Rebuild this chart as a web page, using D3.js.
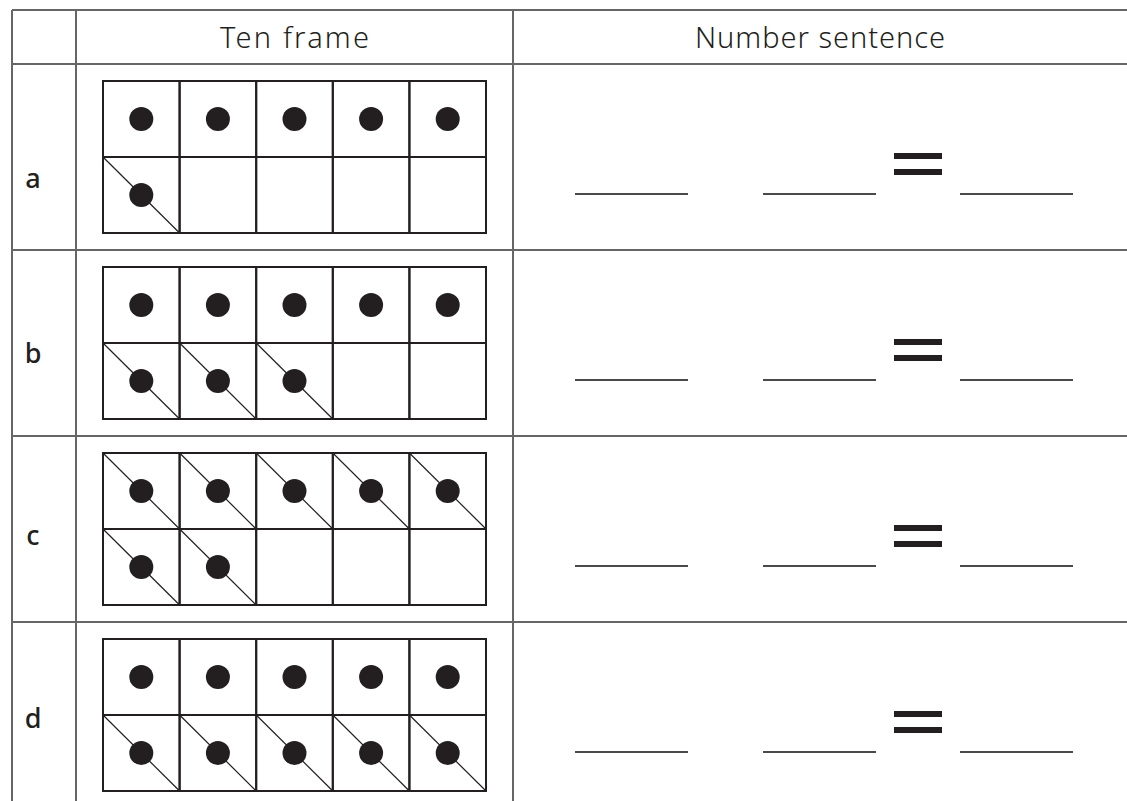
<!DOCTYPE html>
<html>
<head>
<meta charset="utf-8">
<script src="https://cdn.jsdelivr.net/npm/d3@7"></script>
<style>
  body { margin: 0; background: #fff; }
  svg { display: block; }
  text { font-family: "Noto Sans", "DejaVu Sans", sans-serif; fill: #231f20; }
</style>
</head>
<body>
<svg width="1127" height="801"></svg>
<script>
// worksheet rows: how many counters, how many of them are crossed out
const rowLabels = ["a", "b", "c", "d"];
const counters = [6, 8, 7, 10];
const crossedOut = [1, 3, 7, 5];
const headers = ["Ten frame", "Number sentence"];
const blanks = ["first", "second", "result"];

const svg = d3.select("svg");
const ink = "#231f20";
const rule = "#666";

// table geometry
const tLeft = 12, colA = 76, colB = 513, tRight = 1127;
const tTop = 10, headBottom = 64;
// label baselines inside each row (they sit a little unevenly on the sheet)
const labelBase = [124, 113, 109, 106];

const rowY = d3.scaleBand().domain(rowLabels).range([headBottom, headBottom + 186 * 4]);

// table rules
const g = svg.append("g");
g.append("line").attr("x1", tLeft).attr("x2", tRight).attr("y1", tTop).attr("y2", tTop);
g.selectAll("line.h")
  .data([headBottom].concat(rowLabels.slice(1).map(d => rowY(d))))
  .join("line").attr("class", "h")
  .attr("x1", tLeft).attr("x2", tRight)
  .attr("y1", d => d).attr("y2", d => d);
g.selectAll("line.v")
  .data([tLeft, colA, colB])
  .join("line").attr("class", "v")
  .attr("x1", d => d).attr("x2", d => d)
  .attr("y1", tTop).attr("y2", 801);
g.selectAll("line").attr("stroke", rule).attr("stroke-width", 2);

// headers
svg.selectAll("text.head")
  .data(headers)
  .join("text").attr("class", "head")
  .attr("x", (d, i) => i === 0 ? (colA + colB) / 2 : (colB + tRight) / 2)
  .attr("y", 48)
  .attr("text-anchor", "middle")
  .attr("font-size", 29)
  .attr("font-weight", 300)
  .attr("textLength", (d, i) => i === 0 ? 149 : 250)
  .text(d => d);

// ten-frame scales
const cellX = d3.scaleBand().domain(d3.range(5)).range([103, 486]);
const cellY = d3.scaleBand().domain([0, 1]).range([0, 152]);

const rows = svg.selectAll("g.row")
  .data(rowLabels.map((l, i) => ({ label: l, i, count: counters[i], crossed: crossedOut[i] })))
  .join("g").attr("class", "row")
  .attr("transform", d => `translate(0,${rowY(d.label)})`);

rows.append("text")
  .attr("x", 33)
  .attr("y", d => labelBase[d.i])
  .attr("text-anchor", "middle")
  .attr("font-size", 27)
  .attr("font-weight", 500)
  .text(d => d.label);

const frame = rows.append("g").attr("transform", "translate(0,17)");

frame.selectAll("g.cell")
  .data(d => d3.range(10).map(k => ({
    k, col: k % 5, row: Math.floor(k / 5),
    dot: k < d.count, cross: k < d.count && k >= d.count - d.crossed
  })))
  .join("g").attr("class", "cell")
  .each(function(c) {
    const cg = d3.select(this);
    const x0 = cellX(c.col), y0 = cellY(c.row);
    const w = cellX.bandwidth(), h = cellY.bandwidth();
    cg.append("rect")
      .attr("x", x0).attr("y", y0).attr("width", w).attr("height", h)
      .attr("fill", "none").attr("stroke", ink).attr("stroke-width", 2);
    if (c.cross) {
      cg.append("line")
        .attr("x1", x0).attr("y1", y0).attr("x2", x0 + w).attr("y2", y0 + h)
        .attr("stroke", ink).attr("stroke-width", 1.2);
    }
    if (c.dot) {
      cg.append("circle")
        .attr("cx", x0 + w / 2).attr("cy", y0 + h / 2).attr("r", 12)
        .attr("fill", ink);
    }
  });

// number sentence: blanks and equals sign
const blankW = 113;
const blankPos = { first: 575, second: 763, result: 960 };

rows.selectAll("line.blank")
  .data(blanks)
  .join("line").attr("class", "blank")
  .attr("x1", d => blankPos[d]).attr("x2", d => blankPos[d] + blankW)
  .attr("y1", 130).attr("y2", 130)
  .attr("stroke", "#4a4a4a").attr("stroke-width", 2.2);

rows.selectAll("rect.eq")
  .data([89, 105])
  .join("rect").attr("class", "eq")
  .attr("x", 894).attr("y", d => d)
  .attr("width", 48).attr("height", 6)
  .attr("fill", ink);
</script>
</body>
</html>
